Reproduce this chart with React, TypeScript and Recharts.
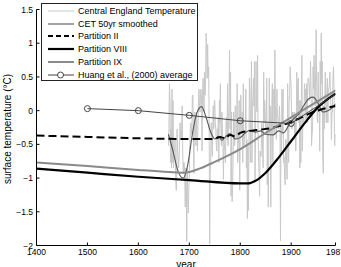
import { LineChart, Line, XAxis, YAxis, Legend } from 'recharts';

const FONT = '"Liberation Sans", Arial, Helvetica, sans-serif';

// annual CET anomalies, 1659 onwards
const CET_FIRST_YEAR = 1659;
const cetAnomaly = [
  -0.52, -0.27,
  0.4, 0.15, -0.77, -0.27, -0.85, 0.32, -0.77, 0.15, -0.85, -0.6,
  -0.6, -0.43, -0.93, -1.18, -1.18, -0.27, -0.6, -0.68, -0.85, -0.68,
  -0.43, -0.18, -0.43, -0.43, -0.27, 0.07, -0.6, -0.93, -0.77, -0.77,
  -0.93, -1.43, -0.85, -1.1, -1.94, -0.85, -1.27, -1.52, -1.18, -0.93,
  -0.52, -0.27, -0.18, -0.27, -0.35, 0.23, 0.23, -0.35, -0.93, -0.18,
  -0.02, -0.27, -0.52, -0.02, -0.35, -0.6, -0.18, 0.15, 0.32, 0.07,
  -0.02, 0.23, 0.32, 0.15, -0.6, 0.23, 0.48, 0.23, -0.02, 0.57,
  0.23, 0.48, 1.15, 0.98, 0.48, 0.98, 0.48, 0.65, -0.27, -1.98,
  -0.93, -0.77, -0.18, -0.43, -0.68, -0.27, 0.07, -0.27, 0.15, 0.15,
  -0.18, -0.27, -0.52, -0.6, -0.27, -0.43, -0.1, -0.77, 0.15, -0.18,
  0.4, -0.27, -0.52, -0.02, -0.27, -0.52, -1.02, -0.43, -0.52, -0.6,
  -0.77, -0.18, -0.1, -0.43, 0.4, -0.52, -0.18, 0.23, 0.9, -0.27,
  0.57, -1.27, -0.02, -1.35, -1.18, -0.68, -0.02, -0.18, -0.52, 0.07,
  0.07, -0.43, -0.27, 0.4, -0.77, -0.52, -0.27, 0.15, -1.18, -0.27,
  0.23, -0.35, -0.27, -0.02, -0.77, 0.4, -0.52, -0.43, -0.35, -0.35,
  0.32, -0.85, -0.43, -1.6, -0.52, -1.48, -0.6, 0.48, 0.15, -0.77,
  0.15, 0.73, -0.77, 0.07, 0.23, 0.48, 0.07, 0.73, -1.02, -0.43,
  0.73, 0.07, -0.02, 0.82, -0.27, -0.77, -0.93, -1.27, -0.6, -0.68,
  -0.68, -0.18, -0.27, -0.6, -0.85, 0.57, -0.18, 0.15, -0.1, -0.27,
  -0.1, 0.48, -1.1, -0.18, -1.43, -0.6, 0.48, -0.35, 0.07, -1.43,
  -0.35, 0.07, 0.4, -0.77, 0.23, 0.32, -0.35, 0.9, 0.07, -0.27,
  -0.43, 0.32, -0.1, -0.1, -0.27, -0.18, 0.07, -0.18, -1.93, -0.18,
  -0.6, 0.32, -0.35, 0.32, -0.77, -0.68, -0.93, -1.1, -0.43, -0.43,
  -0.77, -1.02, 0.4, -0.1, -0.77, 0.15, 0.23, 0.65, 0.48, 0.32,
  -0.27, -0.27, -0.02, -0.18, -0.1, -0.02, -0.43, -0.1, -0.6, -0.18,
  0.57, -0.02, 0.4, 0.48, -0.18, 0.15, -0.85, 0.15, -0.77, 0.15,
  0.82, -0.6, -0.1, -0.1, -0.18, 0.4, 0.15, 0.32, -0.18, 0.4,
  -0.18, 0.23, 0.48, 0.48, 0.4, 0.15, 0.32, 0.73, 0.32, -0.52,
  -0.35, -0.27, 0.65, 0.32, 0.82, 0.15, 0.07, 0.57, 1.2, 0.4,
  -0.1, -0.18, 0.57, -0.02, 0.15, -0.6, 0.73, 0.07, 1.15, 0.4,
  0.73, -0.68, -0.93, 0.07, -0.27, 0.23, 0.57, 0.07, -0.18, 0.23,
  0.48, -0.18, 0.32, 0.32, 0.4, 0.57, 0.23, 0.07, -0.43, -0.02,
  -0.02, 0.48, 0.65, 0.4, -0.43, -0.52, -0.35,
];

// 50 yr smoothed CET
const smoothYears = [
  1659, 1668, 1678, 1688, 1697, 1706, 1715, 1724, 1733, 1742, 1750, 1757, 1764, 1772,
  1780, 1790, 1800, 1810, 1819, 1830, 1840, 1850, 1865, 1875, 1885, 1895, 1905, 1915,
  1925, 1935, 1943, 1952, 1962, 1972, 1980, 1987,
];
const smoothValues = [
  -0.35, -0.6, -0.9, -1.0, -0.8, -0.35, -0.03, 0.06, -0.1, -0.32, -0.42, -0.38, -0.44, -0.38,
  -0.34, -0.42, -0.4, -0.33, -0.29, -0.32, -0.3, -0.35, -0.36, -0.3, -0.33, -0.22, -0.12, -0.05,
  0.08, 0.18, 0.2, 0.12, -0.02, 0.0, 0.04, 0.1,
];

// Partition II
const p2Years = [1400, 1500, 1600, 1700, 1750, 1760, 1770, 1780, 1790, 1800, 1820, 1840, 1860, 1880, 1900, 1920, 1940, 1960, 1987];
const p2Values = [-0.37, -0.39, -0.41, -0.42, -0.42, -0.39, -0.41, -0.36, -0.38, -0.33, -0.3, -0.28, -0.26, -0.22, -0.17, -0.1, -0.03, 0.02, 0.07];

// Partition VIII
const p8Years = [1400, 1500, 1600, 1700, 1800, 1815, 1830, 1850, 1875, 1900, 1925, 1950, 1987];
const p8Values = [-0.86, -0.92, -0.98, -1.03, -1.08, -1.08, -1.04, -0.92, -0.7, -0.45, -0.2, 0.03, 0.25];

// Partition IX
const p9Years = [1400, 1500, 1600, 1660, 1690, 1700, 1720, 1750, 1800, 1850, 1900, 1950, 1987];
const p9Values = [-0.77, -0.82, -0.88, -0.91, -0.92, -0.91, -0.86, -0.76, -0.57, -0.33, -0.1, 0.13, 0.3];

// Huang et al. (2000) borehole average
const huangYears = [1500, 1600, 1700, 1800, 1900, 2000];
const huangValues = [0.03, 0.0, -0.07, -0.15, -0.19, 0.31];

const xTicks = [1400, 1500, 1600, 1700, 1800, 1900, 1987];
const yTicks = [-2, -1.5, -1, -0.5, 0, 0.5, 1, 1.5];

const toRows = (years: number[], values: number[]) => years.map((year, i) => ({ year, v: values[i] }));

const cetRows = cetAnomaly.map((v, i) => ({ year: CET_FIRST_YEAR + i, v }));
const smoothRows = toRows(smoothYears, smoothValues);
const p2Rows = toRows(p2Years, p2Values);
const p8Rows = toRows(p8Years, p8Values);
const p9Rows = toRows(p9Years, p9Values);
const huangRows = toRows(huangYears, huangValues);

const CET_GRAY = '#c8c8c8';
const SMOOTH_GRAY = '#555555';
const P9_GRAY = '#8a8a8a';
const HUANG_GRAY = '#444444';

const legendItems = [
  { label: 'Central England Temperature', color: CET_GRAY, width: 1, dash: undefined, marker: false },
  { label: 'CET 50yr smoothed', color: SMOOTH_GRAY, width: 1.1, dash: undefined, marker: false },
  { label: 'Partition II', color: '#000000', width: 2, dash: '5 3', marker: false },
  { label: 'Partition VIII', color: '#000000', width: 2.2, dash: undefined, marker: false },
  { label: 'Partition IX', color: P9_GRAY, width: 2, dash: undefined, marker: false },
  { label: 'Huang et al., (2000) average', color: HUANG_GRAY, width: 1, dash: undefined, marker: true },
];

const fmtY = (v: number) => (v < 0 ? `\u2212${Math.abs(v)}` : `${v}`);

function LegendBox() {
  return (
    <div
      style={{
        width: 157,
        height: 78,
        boxSizing: 'border-box',
        border: '1px solid #222',
        background: '#fff',
        fontFamily: FONT,
        fontSize: 9,
        color: '#000',
        paddingTop: 0.5,
      }}
    >
      {legendItems.map((item) => (
        <div key={item.label} style={{ display: 'flex', alignItems: 'center', height: 12.8, paddingLeft: 6 }}>
          <svg width={26} height={10} style={{ flex: 'none' }}>
            <line x1={0} x2={26} y1={5} y2={5} stroke={item.color} strokeWidth={item.width} strokeDasharray={item.dash} />
            {item.marker && <circle cx={12.5} cy={5} r={3} fill="#fff" stroke={item.color} strokeWidth={1} />}
          </svg>
          <span style={{ marginLeft: 4, whiteSpace: 'nowrap' }}>{item.label}</span>
        </div>
      ))}
    </div>
  );
}

const tickStyle = { fill: '#000', fontSize: 8.5, fontFamily: FONT };

export default function App() {
  return (
    <div style={{ position: 'absolute', left: 0, top: 0, width: 341, height: 267, background: '#fff' }}>
      <LineChart width={341} height={267} margin={{ top: 9.5, right: 5.5, bottom: 0, left: 0 }}>
        <XAxis
          dataKey="year"
          type="number"
          domain={[1400, 1987]}
          ticks={xTicks}
          interval={0}
          allowDataOverflow
          height={21.5}
          tickSize={-3}
          tickMargin={6.5}
          stroke="#000"
          tick={tickStyle}
          label={{ value: 'year', position: 'insideBottom', offset: -1, fill: '#000', fontSize: 10, fontFamily: FONT }}
        />
        <XAxis
          xAxisId="top"
          dataKey="year"
          orientation="top"
          type="number"
          domain={[1400, 1987]}
          ticks={xTicks}
          interval={0}
          height={0}
          tickSize={-3}
          stroke="#000"
          tick={false}
        />
        <YAxis
          type="number"
          domain={[-2, 1.5]}
          ticks={yTicks}
          interval={0}
          allowDataOverflow
          width={36.5}
          tickSize={-3}
          tickMargin={6.5}
          stroke="#000"
          tick={tickStyle}
          tickFormatter={fmtY}
          label={{
            content: () => (
              <text
                x={7.5}
                y={129}
                transform="rotate(-90 7.5 129)"
                textAnchor="middle"
                dominantBaseline="central"
                fill="#000"
                fontSize={10}
                fontFamily={FONT}
              >
                surface temperature (°C)
              </text>
            ),
          }}
        />
        <YAxis
          yAxisId="right"
          orientation="right"
          type="number"
          domain={[-2, 1.5]}
          ticks={yTicks}
          interval={0}
          width={0}
          tickSize={-3}
          stroke="#000"
          tick={false}
        />
        <Legend
          layout="vertical"
          align="center"
          verticalAlign="middle"
          content={() => <LegendBox />}
          wrapperStyle={{ top: 3, left: 41, width: 157, height: 78 }}
        />
        <Line data={cetRows} dataKey="v" type="linear" stroke={CET_GRAY} strokeWidth={1} dot={false} activeDot={false} isAnimationActive={false} />
        <Line data={smoothRows} dataKey="v" type="monotone" stroke={SMOOTH_GRAY} strokeWidth={1.1} dot={false} activeDot={false} isAnimationActive={false} />
        <Line data={p2Rows} dataKey="v" type="monotone" stroke="#000" strokeWidth={2} strokeDasharray="8 4" dot={false} activeDot={false} isAnimationActive={false} />
        <Line data={p8Rows} dataKey="v" type="monotone" stroke="#000" strokeWidth={2.2} dot={false} activeDot={false} isAnimationActive={false} />
        <Line data={p9Rows} dataKey="v" type="monotone" stroke={P9_GRAY} strokeWidth={2} dot={false} activeDot={false} isAnimationActive={false} />
        <Line
          data={huangRows}
          dataKey="v"
          type="linear"
          stroke={HUANG_GRAY}
          strokeWidth={1}
          dot={{ r: 3, stroke: HUANG_GRAY, strokeWidth: 1, fill: 'none' }}
          activeDot={false}
          isAnimationActive={false}
        />
      </LineChart>
    </div>
  );
}
